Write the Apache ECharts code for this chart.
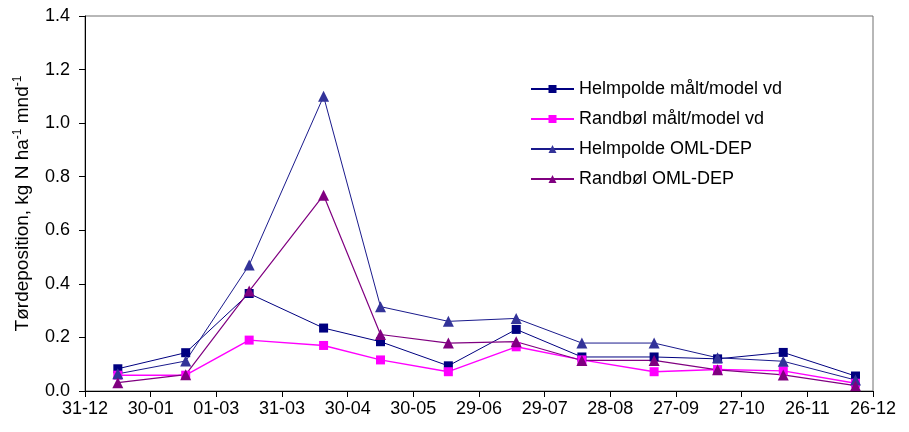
<!DOCTYPE html>
<html>
<head>
<meta charset="utf-8">
<script src="https://cdn.jsdelivr.net/npm/echarts@6/dist/echarts.min.js"></script>
<style>
  html, body { margin: 0; padding: 0; background: #ffffff; }
  #chart { width: 909px; height: 432px; }
</style>
</head>
<body>
<div id="chart"></div>
<script>
// Day offsets from 31-12 for each monthly sample
const sampleDays = [15, 46, 75, 109, 135, 166, 197, 227, 260, 289, 319, 352];

// Dry deposition, kg N ha-1 mnd-1
const helmpoldeMaalt = [0.083, 0.143, 0.364, 0.235, 0.184, 0.094, 0.230, 0.127, 0.127, 0.120, 0.144, 0.056];
const randboelMaalt  = [0.059, 0.059, 0.190, 0.170, 0.116, 0.072, 0.165, 0.116, 0.072, 0.080, 0.075, 0.029];
const helmpoldeOml   = [0.064, 0.112, 0.470, 1.100, 0.315, 0.260, 0.271, 0.179, 0.179, 0.124, 0.111, 0.041];
const randboelOml    = [0.031, 0.061, 0.373, 0.731, 0.211, 0.179, 0.184, 0.114, 0.114, 0.079, 0.060, 0.020];

// x-axis tick labels, one every 30 days
const xTickLabels = ['31-12', '30-01', '01-03', '31-03', '30-04', '30-05', '29-06',
                     '29-07', '28-08', '27-09', '27-10', '26-11', '26-12'];

const seriesNames = ['Helmpolde målt/model vd', 'Randbøl målt/model vd',
                     'Helmpolde OML-DEP', 'Randbøl OML-DEP'];

function pairs(values) {
  return sampleDays.map((d, i) => [d, values[i]]);
}

const FONT = 'Liberation Sans, Arial, sans-serif';

const chart = echarts.init(document.getElementById('chart'), null, { renderer: 'canvas' });

function lineSeries(name, values, color, lineColor, lineWidth, symbol, size) {
  return {
    name: name,
    type: 'line',
    data: pairs(values),
    symbol: symbol,
    symbolSize: size,
    showAllSymbol: true,
    animation: false,
    lineStyle: { color: lineColor, width: lineWidth },
    itemStyle: { color: color, borderWidth: 0 },
    emphasis: { disabled: true }
  };
}

chart.setOption({
  backgroundColor: '#ffffff',
  animation: false,
  grid: {
    left: 85, right: 36, top: 16, bottom: 41,
    show: true, borderColor: '#707070', borderWidth: 1, backgroundColor: 'transparent'
  },
  legend: {
    orient: 'vertical',
    left: 525,
    top: 75,
    itemWidth: 43,
    itemHeight: 10,
    itemGap: 12,
    data: seriesNames,
    textStyle: { fontFamily: FONT, fontSize: 18, color: '#000000' },
    selectedMode: false
  },
  xAxis: {
    type: 'value',
    min: 0,
    max: 360,
    interval: 30,
    axisLine: { show: true, lineStyle: { color: '#000000', width: 1 } },
    axisTick: { show: true, length: 6, lineStyle: { color: '#000000' } },
    splitLine: { show: false },
    axisLabel: {
      margin: 9,
      fontFamily: FONT,
      fontSize: 18,
      color: '#000000',
      formatter: function (v) { return xTickLabels[Math.round(v / 30)] || ''; }
    }
  },
  yAxis: {
    type: 'value',
    min: 0,
    max: 1.4,
    interval: 0.2,
    name: '{n|Tørdeposition, kg N ha}{s|-1}{n| mnd}{s|-1}',
    nameLocation: 'middle',
    nameRotate: 90,
    nameGap: 51,
    nameTextStyle: {
      fontFamily: FONT,
      color: '#000000',
      rich: {
        n: { fontFamily: FONT, fontSize: 19, lineHeight: 22, color: '#000000' },
        s: { fontFamily: FONT, fontSize: 12, lineHeight: 13, verticalAlign: 'top', color: '#000000' }
      }
    },
    axisLine: { show: true, lineStyle: { color: '#000000', width: 1 } },
    axisTick: { show: true, length: 6, lineStyle: { color: '#000000' } },
    splitLine: { show: false },
    axisLabel: {
      margin: 15,
      fontFamily: FONT,
      fontSize: 18,
      color: '#000000',
      formatter: function (v) { return v.toFixed(1); }
    }
  },
  series: [
    lineSeries(seriesNames[0], helmpoldeMaalt, '#000080', '#000080', 1, 'rect', 9),
    lineSeries(seriesNames[1], randboelMaalt, '#ff00ff', '#ff00ff', 1.4, 'rect', 9),
    lineSeries(seriesNames[2], helmpoldeOml, '#333399', '#1a1a8c', 1, 'triangle', 11),
    lineSeries(seriesNames[3], randboelOml, '#800080', '#800080', 1.2, 'triangle', 11)
  ]
});
</script>
</body>
</html>
